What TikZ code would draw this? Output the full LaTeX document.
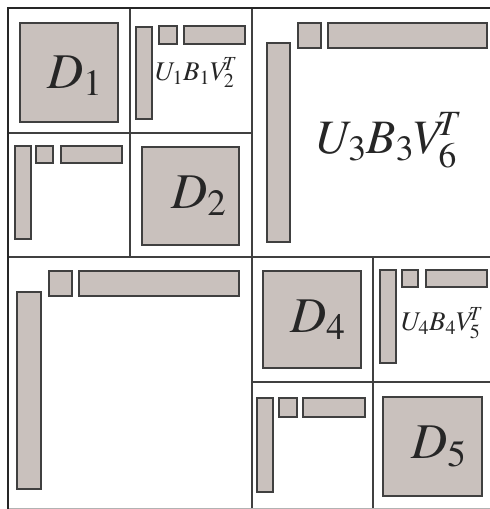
\documentclass[tikz,border=0pt]{standalone}
\usepackage{mathptmx}
\begin{document}
\begin{tikzpicture}[x=1pt,y=-1pt,
  blk/.style={draw=black!75,line width=1.4pt,fill=blkfill},
  grid/.style={draw=black!75,line width=1.5pt},
  frame/.style={draw=black!85,line width=2.6pt},
  lbl/.style={anchor=base west,inner sep=0pt,text=black!85},
  big/.style={lbl,font=\fontsize{50}{50}\selectfont},
  mid/.style={lbl,font=\fontsize{48}{48}\selectfont},
  small/.style={lbl,font=\fontsize{27}{27}\selectfont}]
\definecolor{blkfill}{HTML}{C9C1BD}
\useasboundingbox (0,0) rectangle (490,509);
% grid lines
\draw[grid] (252,8) -- (252,509);
\draw[grid] (8,257) -- (490,257);
\draw[grid] (130,8) -- (130,257);
\draw[grid] (8,133) -- (252,133);
\draw[grid] (373,257) -- (373,509);
\draw[grid] (252,382) -- (490,382);
\draw[draw=black!30,line width=1pt] (8,508) -- (490,508);
\draw[frame] (8,509) -- (8,8) -- (490,8);
% top-left quadrant
\draw[blk] (20,23) rectangle (118,122);
\draw[blk] (136,27) rectangle (152,119);
\draw[blk] (159,26) rectangle (177,44);
\draw[blk] (184,26) rectangle (245,44);
\draw[blk] (15,146) rectangle (31,239);
\draw[blk] (36,146) rectangle (53,163);
\draw[blk] (61,146) rectangle (122,163);
\draw[blk] (142,147) rectangle (239,245);
% top-right quadrant
\draw[blk] (267,43) rectangle (290,242);
\draw[blk] (298,23) rectangle (321,48);
\draw[blk] (328,23) rectangle (487,48);
% bottom-left quadrant
\draw[blk] (17,292) rectangle (41,489);
\draw[blk] (49,271) rectangle (72,296);
\draw[blk] (79,271) rectangle (239,296);
% bottom-right quadrant
\draw[blk] (263,271) rectangle (361,368);
\draw[blk] (380,270) rectangle (396,363);
\draw[blk] (402,270) rectangle (418,287);
\draw[blk] (426,270) rectangle (487,287);
\draw[blk] (257,398) rectangle (273,492);
\draw[blk] (279,398) rectangle (297,417);
\draw[blk] (303,398) rectangle (365,417);
\draw[blk] (383,397) rectangle (482,496);
% labels
\node[big] (d1) at (47,88) {$D_1$};
\node[big] (d2) at (171,208) {$D_2$};
\node[big] (d4) at (290,332) {$D_4$};
\node[big] (d5) at (411,458) {$D_5$};
\node[mid] (u3) at (317,153) {$U_3B_3V_6^{\mkern-5mu T}$};
\node[small] (u1) at (155,80) {$U_1B_1V_2^{\mkern-5mu T}$};
\node[small] (u4) at (401,330) {$U_4B_4V_5^{\mkern-5mu T}$};
\end{tikzpicture}
\end{document}
